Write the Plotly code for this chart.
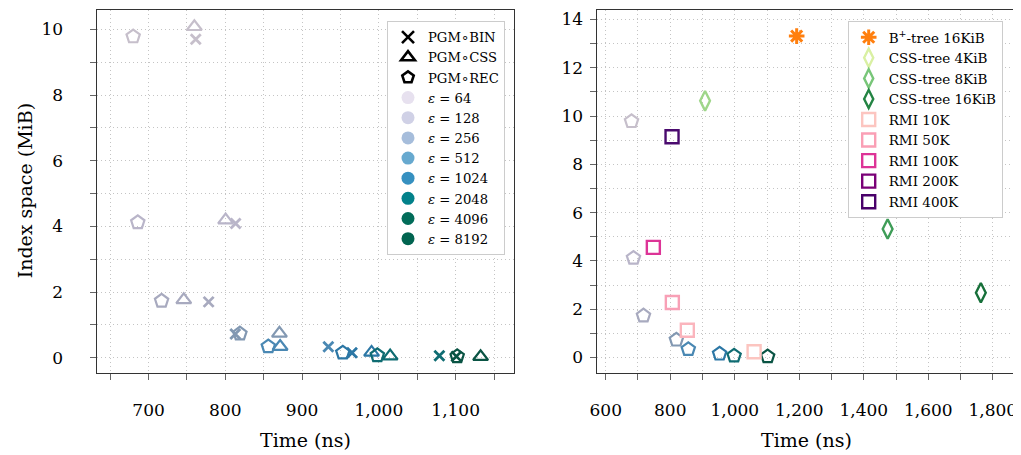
import plotly.graph_objects as go

# ---------------- data (left panel: PGM variants) ----------------
eps_labels = ["64", "128", "256", "512", "1024", "2048", "4096", "8192"]
eps_legend_colors = ["#e7e1ef", "#d0d1e6", "#a6bddb", "#67a9cf",
                     "#3690c0", "#02818a", "#016c59", "#016450"]
eps_point_colors = ["#c6bfcb", "#b9b5c9", "#a8aabf", "#8298b2",
                    "#4a88b3", "#2c77a5", "#0f6c72", "#0a5444"]

bin_time = [761.5, 813.4, 778.3, 813.0, 934.2, 965.0, 1078.8, 1101.0]
bin_space = [9.70, 4.09, 1.70, 0.72, 0.335, 0.15, 0.06, 0.04]
css_time = [759.7, 800.4, 745.9, 870.5, 871.4, 990.5, 1014.7, 1132.5]
css_space = [10.08, 4.19, 1.76, 0.74, 0.34, 0.16, 0.05, 0.03]
rec_time = [680.0, 686.0, 717.0, 819.0, 856.0, 953.0, 998.0, 1102.0]
rec_space = [9.78, 4.12, 1.73, 0.73, 0.34, 0.15, 0.07, 0.04]

# ---------------- data (right panel: competitors) ----------------
other_names = ["B<sup>+</sup>-tree 16KiB", "CSS-tree 4KiB", "CSS-tree 8KiB", "CSS-tree 16KiB",
               "RMI 10K", "RMI 50K", "RMI 100K", "RMI 200K", "RMI 400K"]
other_time = [1192.0, 908.0, 1474.0, 1763.0, 1060.0, 853.0, 806.5, 747.6, 805.6]
other_space = [13.31, 10.63, 5.32, 2.68, 0.24, 1.13, 2.28, 4.56, 9.14]
other_legend_colors = ["#ff7f0e", "#d9f0a3", "#78c679", "#238443",
                       "#fcc5c0", "#fa9fb5", "#dd3497", "#7a0177", "#49006a"]
other_point_colors = ["#ff7f0e", "#9fd68a", "#3f9d58", "#17703a",
                      "#fcc5c0", "#fbb5bd", "#f8a0b6", "#dd3497", "#4a0a6e"]
other_symbols = ["asterisk-open", "diamond-tall-open", "diamond-tall-open", "diamond-tall-open",
                 "square-open", "square-open", "square-open", "square-open", "square-open"]

# ---------------- styling ----------------
FONT = "DejaVu Serif"
OFF = 8                      # page body margin
W, H = 1021 - OFF, 455 - OFF
GRID = "#c4c4c4"
DOT = "1px,3px"
RING = '<span style="font-family:DejaVu Sans">∘</span>'


def px(x):
    return (x - OFF) / W


def py(y):
    return 1 - (y - OFF) / H


fig = go.Figure()

sym = {"bin": "x-thin-open", "css": "triangle-up-open", "rec": "pentagon-open"}

# left panel points
for t, s, k, sz in [(css_time, css_space, "css", 13), (bin_time, bin_space, "bin", 10),
                    (rec_time, rec_space, "rec", 14)]:
    fig.add_trace(go.Scatter(
        x=t, y=s, mode="markers", showlegend=False, xaxis="x", yaxis="y",
        marker=dict(symbol=sym[k], size=sz, color=eps_point_colors,
                    line=dict(width=2.8 if k == "bin" else 2.2, color=eps_point_colors)),
        hoverinfo="skip"))

# left legend entries
for name, k in [("PGM" + RING + "BIN", "bin"), ("PGM" + RING + "CSS", "css"),
                ("PGM" + RING + "REC", "rec")]:
    fig.add_trace(go.Scatter(
        x=[None], y=[None], mode="markers", name=name, legend="legend",
        xaxis="x", yaxis="y",
        marker=dict(symbol=sym[k], size=12, color="black",
                    line=dict(width=2.6, color="black"))))
for lab, c in zip(eps_labels, eps_legend_colors):
    fig.add_trace(go.Scatter(
        x=[None], y=[None], mode="markers", name="<i>ε</i> = " + lab, legend="legend",
        xaxis="x", yaxis="y",
        marker=dict(symbol="circle", size=13, color=c)))

# right panel: PGM∘REC points
fig.add_trace(go.Scatter(
    x=rec_time, y=rec_space, mode="markers", showlegend=False, xaxis="x2", yaxis="y2",
    marker=dict(symbol="pentagon-open", size=14, color=eps_point_colors,
                line=dict(width=2.2, color=eps_point_colors)),
    hoverinfo="skip"))

# right panel: competitors
for i, name in enumerate(other_names):
    sz = 13 if other_symbols[i] != "diamond-tall-open" else 14
    fig.add_trace(go.Scatter(
        x=[other_time[i]], y=[other_space[i]], mode="markers", showlegend=False,
        xaxis="x2", yaxis="y2",
        marker=dict(symbol=other_symbols[i], size=sz, color=other_point_colors[i],
                    line=dict(width=3 if i == 0 else 2.4, color=other_point_colors[i])),
        hoverinfo="skip"))
for i, name in enumerate(other_names):
    fig.add_trace(go.Scatter(
        x=[None], y=[None], mode="markers", name=name, legend="legend2",
        xaxis="x2", yaxis="y2",
        marker=dict(symbol=other_symbols[i], size=13, color=other_legend_colors[i],
                    line=dict(width=3 if i == 0 else 2.4, color=other_legend_colors[i]))))


def xax(rng, dtick, tick0, mdtick, domain, anchor):
    return dict(range=rng, domain=domain, anchor=anchor, dtick=dtick, tick0=tick0,
                tickformat=",", automargin=False,
                showgrid=True, gridcolor=GRID, griddash=DOT, gridwidth=1,
                zeroline=False, showline=True, mirror=True, linecolor="#333", linewidth=1.2,
                ticks="outside", ticklen=6, tickcolor="#666", ticklabelstandoff=16,
                tickfont=dict(family=FONT, size=17, color="black"),
                minor=dict(dtick=mdtick, tick0=tick0, ticks="outside", ticklen=6, tickcolor="#666",
                           showgrid=True, gridcolor=GRID, griddash=DOT, gridwidth=1))


def yax(rng, domain, anchor, standoff):
    return dict(range=rng, domain=domain, anchor=anchor, dtick=2, tick0=0, automargin=False,
                showgrid=True, gridcolor=GRID, griddash=DOT, gridwidth=1,
                zeroline=False, showline=True, mirror=True, linecolor="#333", linewidth=1.2,
                ticks="outside", ticklen=6, tickcolor="#666", ticklabelstandoff=standoff,
                tickfont=dict(family=FONT, size=17, color="black"),
                minor=dict(dtick=1, tick0=0, ticks="outside", ticklen=6, tickcolor="#666",
                           showgrid=True, gridcolor=GRID, griddash=DOT, gridwidth=1))


ydom = [py(372.7), py(10)]
dom1 = [px(96.7), px(514)]
dom2 = [px(596.7), px(1016)]

fig.update_layout(
    width=W, height=H, margin=dict(l=0, r=0, t=0, b=0, autoexpand=False),
    paper_bgcolor="white", plot_bgcolor="white",
    font=dict(family=FONT, color="black"),
    xaxis=xax([632.5, 1176], 100, 700, 50, dom1, "y"),
    yaxis=yax([-0.457, 10.59], ydom, "x", 23),
    xaxis2=xax([572, 1872], 200, 600, 100, dom2, "y2"),
    yaxis2=yax([-0.63, 14.39], ydom, "x2", 3),
    legend=dict(x=px(505), y=py(21), xanchor="right", yanchor="top",
                bgcolor="white", bordercolor="#cccccc", borderwidth=1,
                font=dict(family=FONT, size=13.2), itemwidth=30, tracegroupgap=0),
    legend2=dict(x=px(1002.7), y=py(21), xanchor="right", yanchor="top",
                 bgcolor="white", bordercolor="#cccccc", borderwidth=1,
                 font=dict(family=FONT, size=13.5), itemwidth=30, tracegroupgap=0),
    annotations=[
        dict(text="Time (ns)", x=(dom1[0] + dom1[1]) / 2, y=py(440), xref="paper", yref="paper",
             showarrow=False, font=dict(family=FONT, size=19), xanchor="center", yanchor="middle"),
        dict(text="Time (ns)", x=(dom2[0] + dom2[1]) / 2, y=py(440), xref="paper", yref="paper",
             showarrow=False, font=dict(family=FONT, size=19), xanchor="center", yanchor="middle"),
        dict(text="Index space (MiB)", x=px(25), y=(ydom[0] + ydom[1]) / 2, xref="paper", yref="paper",
             showarrow=False, textangle=-90, font=dict(family=FONT, size=19),
             xanchor="center", yanchor="middle"),
    ],
)

fig.write_html("out.html")
